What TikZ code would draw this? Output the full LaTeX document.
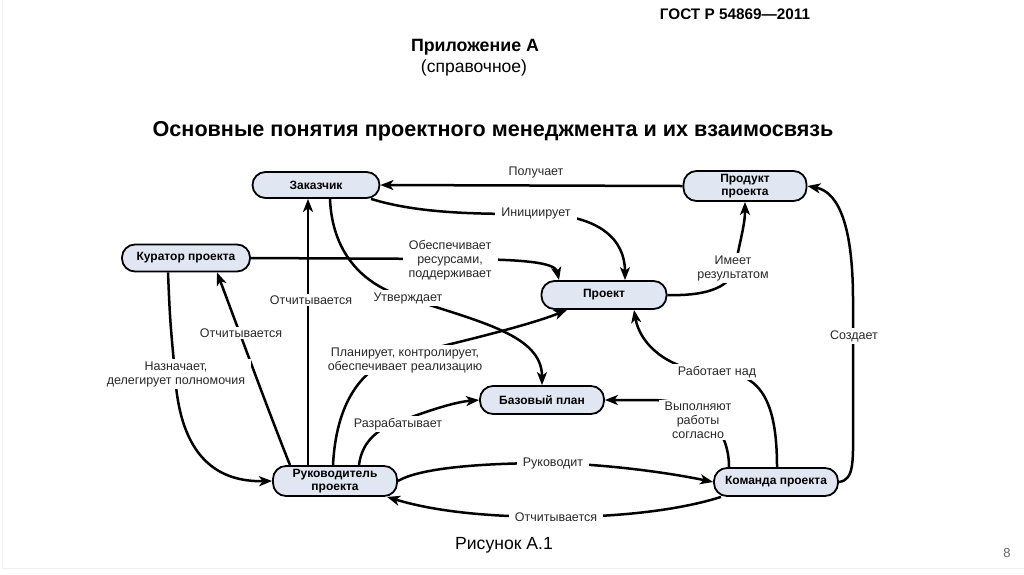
\documentclass[tikz,border=0pt]{standalone}
\usepackage{fontspec}
\setmainfont{Liberation Sans}
\usetikzlibrary{arrows.meta}
\definecolor{nodefill}{RGB}{224,231,243}
\definecolor{txt}{RGB}{40,40,40}
\tikzset{
  box/.style={draw=black, line width=1.8pt, fill=nodefill, rounded corners=13pt,
    minimum width=124pt, minimum height=28pt, inner sep=1pt, align=center,
    font=\fontsize{12}{13}\selectfont\bfseries, text=black},
  conn/.style={line width=2.5pt, draw=black},
  arr/.style={conn, -{Stealth[length=13pt,width=10pt,inset=3.5pt]}},
  lbl/.style={fill=white, inner xsep=6pt, inner ysep=2pt, align=center,
    font=\fontsize{12.5}{14}\selectfont, text=txt},
}
\begin{document}
\begin{tikzpicture}[x=1pt,y=-1pt]
\path[use as bounding box] (0,0) rectangle (1024,574);
\draw[black!6, line width=1pt] (2,0) -- (2,568) -- (1024,568);

% headings
\node[font=\fontsize{15.3}{17}\selectfont\bfseries] (gost) at (735,14) {ГОСТ Р 54869—2011};
\node[font=\fontsize{17.8}{19}\selectfont\bfseries] (app) at (475,47) {Приложение А};
\node[font=\fontsize{17.5}{19}\selectfont] (ref) at (474,68) {(справочное)};
\node[font=\fontsize{21.6}{23}\selectfont\bfseries] (title) at (493,131) {Основные понятия проектного менеджмента и их взаимосвязь};
\node[font=\fontsize{17.6}{19}\selectfont] (fig) at (504,545) {Рисунок А.1};
\node[font=\fontsize{13}{14}\selectfont, text=black!60] (pg) at (1007,553) {8};

% nodes
\node[box, minimum width=127pt, minimum height=26pt] (cust) at (316,185) {Заказчик};
\node[box, minimum width=123pt, minimum height=30pt] (prod) at (745,186) {Продукт\\проекта};
\node[box, minimum width=128pt, minimum height=27pt] (cur) at (186,258) {Куратор проекта};
\node[box, minimum width=125pt] (proj) at (604,295) {Проект};
\node[box] (base) at (542,400) {Базовый план};
\node[box, minimum height=30pt] (rp) at (335,481) {Руководитель\\проекта};
\node[box] (team) at (776,482) {Команда проекта};

% connectors
\draw[arr] (prod.west) -- (cust.east);
\draw[arr] ([xshift=55pt]cust.south) .. controls (420,214) and (480,214) .. (536,214)
  .. controls (600,214) and (625,240) .. ([xshift=21pt]proj.north);
\draw[arr] (cur.east) -- (450,259) .. controls (520,259) and (555,262) .. ([xshift=-45pt]proj.north);
\draw[arr] ([xshift=14pt]cust.south) .. controls (332,250) and (360,285) .. (408,298)
  .. controls (480,322) and (542,335) .. (base.north);
\draw[arr] ([xshift=-27pt]rp.north) -- ([xshift=-8pt]cust.south);
\draw[arr] ([xshift=-45pt]rp.north) .. controls (268,410) and (235,320) .. ([xshift=31pt]cur.south);
\draw[arr] ([xshift=-18pt]cur.south) .. controls (170,320) .. (175,374)
  .. controls (180,460) and (220,482) .. (rp.west);
\draw[arr] ([xshift=-2pt]rp.north) .. controls (336,405) and (360,365) .. (405,355)
  .. controls (460,342) and (530,325) .. ([xshift=-37pt]proj.south);
\draw[arr] ([xshift=24pt]rp.north) .. controls (362,440) and (380,428) .. (398,422)
  .. controls (430,410) and (455,402) .. (base.west);
\draw[arr] (rp.east) .. controls (420,468) and (480,463) .. (553,463)
  .. controls (620,465) and (680,475) .. (team.west);
\draw[arr] ([xshift=-55pt]team.south) .. controls (680,510) and (620,517) .. (556,517)
  .. controls (480,517) and (430,510) .. ([xshift=52pt]rp.south);
\draw[arr] ([xshift=-47pt]team.north) .. controls (729,430) and (705,400) .. (650,400) -- (base.east);
\draw[arr] ([xshift=1pt]team.north) .. controls (777,400) and (760,372) .. (717,372)
  .. controls (670,372) and (640,345) .. ([xshift=30pt]proj.south);
\draw[arr] (team.east) .. controls (855,480) and (853,460) .. (853,420) -- (853,300)
  .. controls (853,230) and (840,192) .. (prod.east);
\draw[arr] (proj.east) .. controls (700,296) and (730,290) .. (735,268)
  .. controls (740,240) and (745,225) .. (prod.south);

% labels
\node[lbl, fill=none] (lget) at (536,172) {Получает};
\node[lbl] (linit) at (536,213) {Инициирует};
\node[lbl] (lres) at (450,260) {Обеспечивает\\ресурсами,\\поддерживает};
\node[lbl] (lappr) at (408,298) {Утверждает};
\node[lbl] (lrep1) at (311,300) {Отчитывается};
\node[lbl] (lrep2) at (241,333) {Отчитывается};
\node[lbl] (lassign) at (176,374) {Назначает,\\делегирует полномочия};
\node[lbl] (lplan) at (405,360) {Планирует, контролирует,\\обеспечивает реализацию};
\node[lbl] (ldev) at (398,424) {Разрабатывает};
\node[lbl] (llead) at (553,463) {Руководит};
\node[lbl] (lrep3) at (556,517) {Отчитывается};
\node[lbl] (lexec) at (698,420) {Выполняют\\работы\\согласно};
\node[lbl] (lwork) at (717,372) {Работает над};
\node[lbl] (lcreate) at (854,336) {Создает};
\node[lbl] (lhas) at (733,268) {Имеет\\результатом};
\end{tikzpicture}
\end{document}
